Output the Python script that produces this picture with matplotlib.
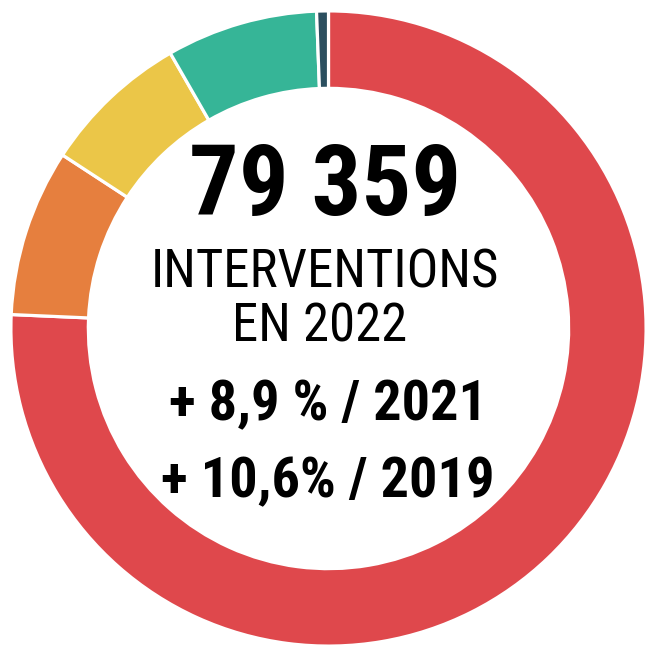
import matplotlib
matplotlib.use("Agg")
import matplotlib.pyplot as plt
from matplotlib import font_manager as fm

# Data
categories = ["Catégorie A", "Catégorie B", "Catégorie C", "Catégorie D", "Catégorie E"]
shares = [75.7, 8.5, 7.5, 7.7, 0.6]
colors = ["#DF484C", "#E67F3E", "#EBC648", "#36B597", "#2B4F5F"]
total_label = "79 359"
line1 = "INTERVENTIONS"
line2 = "EN 2022"
line3 = "+ 8,9 % / 2021"
line4 = "+ 10,6% / 2019"


def pick(cands):
    for c in cands:
        try:
            fm.findfont(fm.FontProperties(family=c), fallback_to_default=False)
            return c
        except Exception:
            pass
    return "DejaVu Sans"


narrow = pick(["Liberation Sans Narrow", "Roboto Condensed", "DejaVu Sans"])

W, H = 646, 647
fig = plt.figure(figsize=(W / 100, H / 100), dpi=100)
fig.patch.set_facecolor("white")

cx, cy, R = 328.5, 328.5, 316
ax = fig.add_axes([(cx - R) / W, (H - cy - R) / H, 2 * R / W, 2 * R / H])
ax.pie(shares, colors=colors, startangle=90, counterclock=False,
       radius=1.005,
       wedgeprops=dict(width=0.245, edgecolor="white", linewidth=2.3))
ax.set_xlim(-1, 1)
ax.set_ylim(-1, 1)
ax.set_aspect("equal")
ax.axis("off")


def put(text, x, y_baseline, size, weight):
    fig.text(x / W, 1 - y_baseline / H, text, ha="center", va="baseline",
             fontsize=size, fontweight=weight, family=[narrow, "DejaVu Sans"],
             color="black")


put(total_label, 325, 215, 71, "bold")
put(line1, 325, 287, 38, "normal")
put(line2, 320, 342, 38, "normal")
put(line3, 328, 420, 40.5, "bold")
put(line4, 328, 497, 40.5, "bold")

fig.savefig("out.png", dpi=100, facecolor="white")
